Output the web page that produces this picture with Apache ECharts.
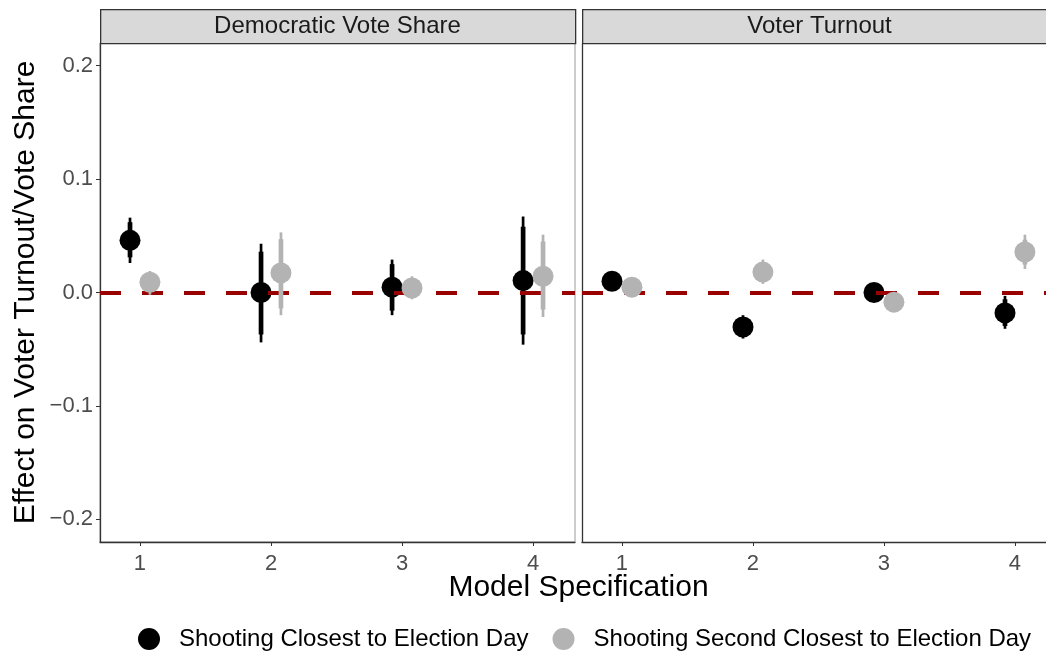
<!DOCTYPE html>
<html>
<head>
<meta charset="utf-8">
<script src="https://cdn.jsdelivr.net/npm/echarts@6/dist/echarts.min.js"></script>
<style>
html,body{margin:0;padding:0;background:#fff;}
#chart{width:1046px;height:654px;}
</style>
</head>
<body>
<div id="chart"></div>
<script>
// ---- data ----
const models = [1, 2, 3, 4];
const yTicks = [-0.2, -0.1, 0, 0.1, 0.2];
const panelTitles = ['Democratic Vote Share', 'Voter Turnout'];
const seriesNames = ['Shooting Closest to Election Day', 'Shooting Second Closest to Election Day'];

// Democratic Vote Share panel
const shareClosestEst  = [0.046, 0.000, 0.0047, 0.0105];
const shareClosestLo95 = [0.026, -0.044, -0.020, -0.046];
const shareClosestHi95 = [0.066, 0.043, 0.029, 0.067];
const shareClosestLo90 = [0.031, -0.037, -0.016, -0.037];
const shareClosestHi90 = [0.062, 0.036, 0.025, 0.058];

const shareSecondEst  = [0.009, 0.0173, 0.004, 0.0143];
const shareSecondLo95 = [-0.002, -0.020, -0.006, -0.0216];
const shareSecondHi95 = [0.019, 0.053, 0.0143, 0.051];
const shareSecondLo90 = [0.001, -0.014, -0.003, -0.015];
const shareSecondHi90 = [0.016, 0.047, 0.011, 0.045];

// Voter Turnout panel
const turnClosestEst  = [0.0099, -0.0304, 0.000, -0.018];
const turnClosestLo95 = [0.004, -0.0406, -0.004, -0.032];
const turnClosestHi95 = [0.016, -0.020, 0.004, -0.003];
const turnClosestLo90 = [0.005, -0.038, -0.003, -0.0295];
const turnClosestHi90 = [0.015, -0.023, 0.003, -0.006];

const turnSecondEst  = [0.0047, 0.018, -0.0085, 0.0357];
const turnSecondLo95 = [-0.001, 0.0076, -0.013, 0.0208];
const turnSecondHi95 = [0.010, 0.029, -0.004, 0.051];
const turnSecondLo90 = [0.000, 0.0099, -0.012, 0.0246];
const turnSecondHi90 = [0.009, 0.026, -0.005, 0.0465];

// ---- layout / style ----
const DODGE = 0.076;
const FONT = '"Liberation Sans", Arial, Helvetica, sans-serif';
const BLACK = '#000000', GREY = '#b3b3b3';

function pointData(est, off) { return models.map((m, i) => [m + off, est[i]]); }
function barData(lo95, hi95, lo90, hi90, off) {
  return models.map((m, i) => [m + off, lo95[i], hi95[i], lo90[i], hi90[i]]);
}
function renderBars(params, api) {
  const x = api.value(0);
  const a = api.coord([x, api.value(1)]);
  const b = api.coord([x, api.value(2)]);
  const c = api.coord([x, api.value(3)]);
  const d = api.coord([x, api.value(4)]);
  const color = api.visual('color');
  return { type: 'group', children: [
    { type: 'line', shape: { x1: a[0], y1: a[1], x2: b[0], y2: b[1] }, style: { stroke: color, lineWidth: 2.7 } },
    { type: 'line', shape: { x1: c[0], y1: c[1], x2: d[0], y2: d[1] }, style: { stroke: color, lineWidth: 4.7 } }
  ]};
}
function fmtY(v) {
  const s = Math.abs(v).toFixed(1);
  return v < -1e-9 ? '\u2212' + s : s;
}

const panels = [
  { closest: [shareClosestEst, shareClosestLo95, shareClosestHi95, shareClosestLo90, shareClosestHi90],
    second:  [shareSecondEst, shareSecondLo95, shareSecondHi95, shareSecondLo90, shareSecondHi90] },
  { closest: [turnClosestEst, turnClosestLo95, turnClosestHi95, turnClosestLo90, turnClosestHi90],
    second:  [turnSecondEst, turnSecondLo95, turnSecondHi95, turnSecondLo90, turnSecondHi90] }
];

// right panel is cut by the image edge: it shows 464px of a 475px panel
const grids = [
  { left: 100, top: 43, width: 475, height: 499, show: true, borderColor: '#9a9a9a', borderWidth: 1, backgroundColor: '#fff' },
  { left: 582, top: 43, width: 464, height: 499, show: false }
];
const xMax = [4.32, 4.237];

const xAxes = [0, 1].map(g => ({
  type: 'value', gridIndex: g, min: 0.695, max: xMax[g],
  axisLine: { show: true, onZero: false, lineStyle: { color: '#333', width: 1.3 } },
  axisTick: { show: true, length: 4, customValues: models, lineStyle: { color: '#333' } },
  axisLabel: { customValues: models, margin: 11, color: '#4d4d4d', fontSize: 22, fontFamily: FONT,
               formatter: v => String(Math.round(v)) },
  splitLine: { show: false }
}));

const yAxes = [0, 1].map(g => ({
  type: 'value', gridIndex: g, min: -0.22, max: 0.22,
  name: g === 0 ? 'Effect on Voter Turnout/Vote Share' : '',
  nameLocation: 'middle', nameGap: 59,
  nameTextStyle: { color: '#000', fontSize: 30, fontFamily: FONT },
  axisLine: { show: true, onZero: false, lineStyle: { color: '#333', width: 1.3 } },
  axisTick: { show: g === 0, length: 4, customValues: yTicks, lineStyle: { color: '#333' } },
  axisLabel: { show: g === 0, customValues: yTicks, margin: 7, color: '#4d4d4d', fontSize: 22, fontFamily: FONT,
               formatter: fmtY },
  splitLine: { show: false }
}));

const series = [];
panels.forEach((p, g) => {
  series.push({
    type: 'line', xAxisIndex: g, yAxisIndex: g, data: [], z: 1, silent: true,
    markLine: { silent: true, symbol: 'none', label: { show: false },
      lineStyle: { color: '#990000', width: 4, type: [21, 21] }, data: [{ yAxis: 0 }] }
  });
  [['closest', BLACK, -DODGE, 0], ['second', GREY, DODGE, 1]].forEach(([key, color, off, k]) => {
    const arr = p[key];
    series.push({
      type: 'custom', name: seriesNames[k], xAxisIndex: g, yAxisIndex: g,
      itemStyle: { color }, z: 3 + k * 2, renderItem: renderBars,
      encode: { x: 0, y: [1, 2, 3, 4] },
      data: barData(arr[1], arr[2], arr[3], arr[4], off)
    });
    series.push({
      type: 'scatter', name: seriesNames[k], xAxisIndex: g, yAxisIndex: g,
      symbol: 'circle', symbolSize: 21, itemStyle: { color, opacity: 1 }, z: 4 + k * 2,
      data: pointData(arr[0], off)
    });
  });
});

const stripW = 475;
const graphics = [];
panelTitles.forEach((t, g) => {
  const left = grids[g].left;
  graphics.push({ type: 'rect', left: left, top: 9, z: 10,
    shape: { width: stripW, height: 34 }, style: { fill: '#d9d9d9', stroke: '#333', lineWidth: 1.3 } });
  graphics.push({ type: 'text', x: left + stripW / 2, y: 26, z: 11,
    style: { text: t, fill: '#1a1a1a', font: '24px ' + FONT, textAlign: 'center', textVerticalAlign: 'middle' } });
});
graphics.push({ type: 'text', x: (grids[0].left + grids[1].left + stripW) / 2, y: 588, z: 11,
  style: { text: 'Model Specification', fill: '#000', font: '30px ' + FONT, textAlign: 'center', textVerticalAlign: 'middle' } });

const chart = echarts.init(document.getElementById('chart'), null, { renderer: 'canvas' });
chart.setOption({
  animation: false,
  backgroundColor: '#fff',
  grid: grids,
  xAxis: xAxes,
  yAxis: yAxes,
  legend: {
    left: 138, top: 627, padding: 0, itemGap: 24, itemWidth: 22, itemHeight: 22,
    selectedMode: false,
    data: seriesNames.map(n => ({ name: n, icon: 'circle' })),
    textStyle: { fontSize: 24, color: '#000', fontFamily: FONT, padding: [0, 0, 0, 14] }
  },
  graphic: graphics,
  series: series
});
</script>
</body>
</html>
